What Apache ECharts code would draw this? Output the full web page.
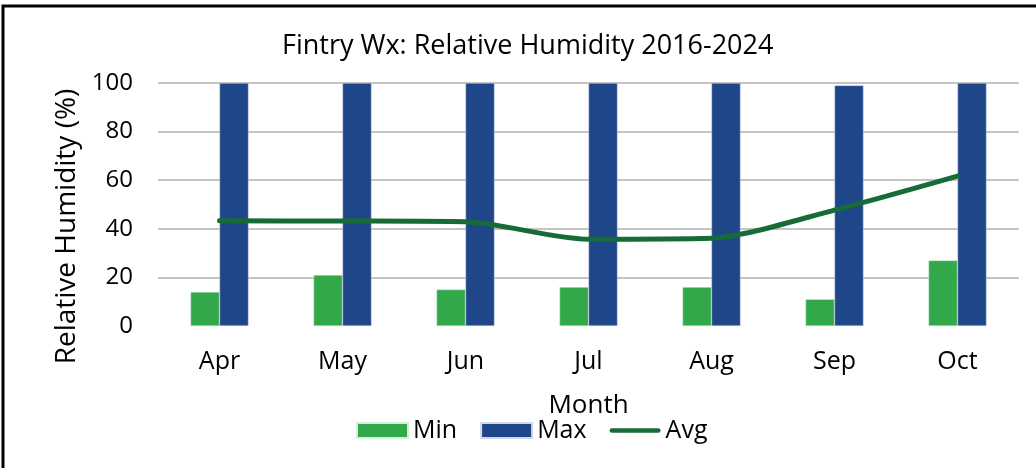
<!DOCTYPE html>
<html>
<head>
<meta charset="utf-8">
<script src="https://cdn.jsdelivr.net/npm/echarts@6/dist/echarts.min.js"></script>
<style>
html,body{margin:0;padding:0;background:#fff;}
#chart{width:1036px;height:468px;}
</style>
</head>
<body>
<div id="chart"></div>
<script>
const months = ['Apr','May','Jun','Jul','Aug','Sep','Oct'];
const minRH = [14, 21, 15, 16, 16, 11, 27];
const maxRH = [100, 100, 100, 100, 100, 99, 100];
const avgRH = [43.3, 43.2, 42.9, 35.7, 36.1, 47.7, 61.7];
const yTicks = [0, 20, 40, 60, 80, 100];

const FONT = '"Open Sans", "Noto Sans", sans-serif';
const chart = echarts.init(document.getElementById('chart'));
chart.setOption({
  animation: false,
  backgroundColor: '#fff',
  textStyle: { fontFamily: FONT, color: '#000' },
  title: {
    text: 'Fintry Wx: Relative Humidity 2016-2024',
    left: 277, top: 28,
    textStyle: { fontFamily: FONT, fontSize: 27, fontWeight: 'normal', color: '#000' }
  },
  graphic: [{
    type: 'rect', silent: true,
    shape: { x: 3, y: 6, width: 1200, height: 600 },
    style: { fill: 'none', stroke: '#000', lineWidth: 3 }
  }],
  legend: {
    top: 413, left: 351,
    itemWidth: 51, itemHeight: 15, itemGap: 23,
    textStyle: { fontFamily: FONT, fontSize: 25, color: '#000' },
    data: [
      { name: 'Min', icon: 'rect' },
      { name: 'Max', icon: 'rect' },
      { name: 'Avg', icon: 'path://M2.5,0 L52.5,0 A2.5,2.5 0 0 1 52.5,5 L2.5,5 A2.5,2.5 0 0 1 2.5,0 Z' }
    ]
  },
  grid: { left: 158, right: 17, top: 83, bottom: 142, containLabel: false },
  xAxis: {
    type: 'category', data: months,
    name: 'Month', nameLocation: 'middle', nameGap: 67,
    nameTextStyle: { fontFamily: FONT, fontSize: 26, color: '#000' },
    axisLine: { show: false }, axisTick: { show: false },
    axisLabel: { fontFamily: FONT, fontSize: 25, color: '#000', margin: 23 }
  },
  yAxis: {
    type: 'value', min: 0, max: 100, interval: 20,
    name: 'Relative Humidity (%)', nameLocation: 'middle', nameGap: 72,
    nameTextStyle: { fontFamily: FONT, fontSize: 28, color: '#000', padding: [0, 44, 0, 0] },
    axisLine: { show: false }, axisTick: { show: false },
    axisLabel: { fontFamily: FONT, fontSize: 24, color: '#000', margin: 25,
      formatter: v => yTicks.includes(v) ? String(v) : '' },
    splitLine: { lineStyle: { width: 2, color: ['rgba(0,0,0,0)', '#c4c4c4', '#c4c4c4', '#c4c4c4', '#c4c4c4', '#c4c4c4'] } }
  },
  series: [
    { name: 'Min', type: 'bar', data: minRH, barWidth: 29, barGap: '0%',
      itemStyle: { color: '#32a84a', borderColor: '#d8eedc', borderWidth: 0.5 } },
    { name: 'Max', type: 'bar', data: maxRH, barWidth: 29, barGap: '0%',
      itemStyle: { color: '#1f4689', borderColor: '#d0d8e8', borderWidth: 0.5 } },
    { name: 'Avg', type: 'line', data: avgRH, smooth: 0.25, symbol: 'none',
      lineStyle: { color: '#176b37', width: 5, cap: 'round' },
      itemStyle: { color: '#176b37' } }
  ]
});
</script>
</body>
</html>
